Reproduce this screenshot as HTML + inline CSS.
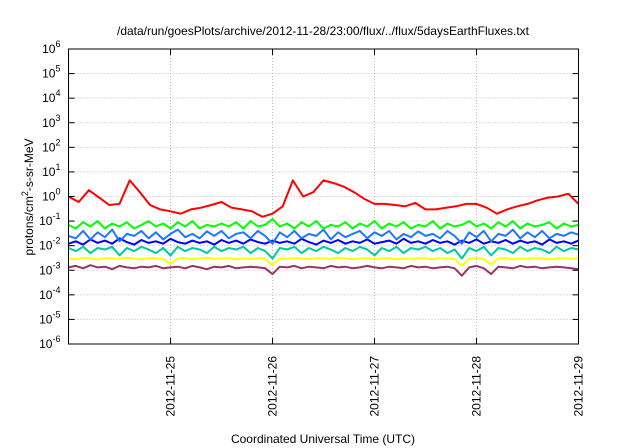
<!DOCTYPE html>
<html><head><meta charset="utf-8"><style>
html,body{margin:0;padding:0;background:#fff;}
svg{display:block;font-family:"Liberation Sans",sans-serif;}
</style></head><body>
<svg id="chart" width="640" height="448" viewBox="0 0 640 448">
<text x="323" y="35" font-size="12" text-anchor="middle">/data/run/goesPlots/archive/2012-11-28/23:00/flux/../flux/5daysEarthFluxes.txt</text>
<text transform="translate(33,197) rotate(-90)" font-size="12" text-anchor="middle">protons/cm<tspan dy="-5" font-size="9">2</tspan><tspan dy="5">-s-sr-MeV</tspan></text>
<text x="323" y="443" font-size="12" text-anchor="middle">Coordinated Universal Time (UTC)</text>
<g id="grid"></g><g id="series"></g><g id="axes"></g>
</svg>
<script>
const xTickLabels=["2012-11-25","2012-11-26","2012-11-27","2012-11-28","2012-11-29"];
const xTickDays=[1,2,3,4,5];
const yTickExps=[-6,-5,-4,-3,-2,-1,0,1,2,3,4,5,6];
const seriesColors=["#993366","#ffff00","#00c8a0","#0000ff","#1e78ff","#00ff00","#ff0000"];
const purple=[0.0013,0.0015,0.0012,0.0016,0.0013,0.0014,0.0011,0.0015,0.0013,0.0012,0.0014,0.0013,0.0015,0.0012,0.0013,0.0014,0.0012,0.0015,0.0013,0.0011,0.0014,0.0013,0.0015,0.0012,0.0013,0.0014,0.0013,0.0012,0.0007,0.0014,0.0013,0.0015,0.0012,0.0014,0.0013,0.0012,0.0015,0.0013,0.0014,0.0012,0.0013,0.0015,0.0013,0.0012,0.0014,0.0013,0.0012,0.0015,0.0013,0.0014,0.0012,0.0013,0.0014,0.0012,0.0006,0.0013,0.0015,0.0012,0.0007,0.0014,0.0013,0.0012,0.0015,0.0013,0.0014,0.0012,0.0013,0.0014,0.0013,0.0012,0.0011];
const yellow=[0.003,0.0028,0.0032,0.003,0.0027,0.0031,0.003,0.0029,0.0032,0.003,0.0028,0.0031,0.003,0.0029,0.0018,0.003,0.0031,0.0028,0.003,0.0032,0.0029,0.003,0.0031,0.0028,0.003,0.0029,0.0031,0.003,0.0016,0.003,0.0029,0.0031,0.003,0.0028,0.0031,0.003,0.0029,0.0032,0.003,0.0028,0.003,0.0031,0.0029,0.003,0.0031,0.0028,0.003,0.0029,0.0031,0.003,0.0028,0.0031,0.003,0.0029,0.0015,0.003,0.0031,0.0029,0.0017,0.003,0.0031,0.0028,0.003,0.0029,0.0031,0.003,0.0028,0.003,0.0031,0.0029,0.003];
const teal=[0.008,0.006,0.009,0.005,0.008,0.007,0.009,0.004,0.008,0.006,0.009,0.007,0.005,0.008,0.004,0.009,0.006,0.008,0.007,0.005,0.009,0.006,0.008,0.007,0.009,0.005,0.008,0.006,0.003,0.008,0.007,0.009,0.005,0.008,0.006,0.009,0.007,0.005,0.008,0.006,0.009,0.007,0.004,0.008,0.006,0.009,0.005,0.008,0.007,0.009,0.006,0.008,0.005,0.007,0.003,0.008,0.006,0.009,0.004,0.008,0.007,0.005,0.009,0.006,0.008,0.007,0.005,0.009,0.006,0.008,0.007];
const blue=[0.012,0.015,0.011,0.018,0.013,0.016,0.012,0.02,0.014,0.011,0.017,0.013,0.015,0.012,0.019,0.014,0.012,0.016,0.013,0.015,0.011,0.017,0.013,0.016,0.012,0.018,0.014,0.012,0.016,0.013,0.015,0.012,0.019,0.014,0.011,0.016,0.013,0.017,0.012,0.015,0.013,0.018,0.012,0.014,0.016,0.012,0.019,0.013,0.015,0.012,0.017,0.013,0.015,0.011,0.016,0.013,0.018,0.012,0.015,0.013,0.017,0.012,0.016,0.013,0.015,0.011,0.018,0.013,0.015,0.012,0.016];
const lightBlue=[0.025,0.02,0.04,0.018,0.035,0.022,0.045,0.015,0.03,0.025,0.04,0.02,0.035,0.018,0.03,0.045,0.022,0.03,0.02,0.038,0.025,0.04,0.02,0.03,0.035,0.02,0.04,0.025,0.012,0.035,0.022,0.04,0.02,0.03,0.025,0.045,0.018,0.035,0.022,0.03,0.04,0.02,0.035,0.025,0.04,0.018,0.03,0.022,0.038,0.025,0.03,0.02,0.04,0.025,0.012,0.035,0.022,0.04,0.015,0.03,0.025,0.045,0.02,0.035,0.022,0.04,0.02,0.03,0.025,0.035,0.028];
const green=[0.07,0.05,0.09,0.06,0.1,0.05,0.08,0.06,0.09,0.05,0.07,0.1,0.06,0.08,0.05,0.09,0.06,0.1,0.05,0.07,0.06,0.08,0.06,0.09,0.05,0.1,0.06,0.07,0.12,0.06,0.08,0.05,0.09,0.06,0.1,0.05,0.07,0.06,0.09,0.05,0.08,0.06,0.1,0.05,0.08,0.06,0.09,0.05,0.07,0.06,0.1,0.05,0.08,0.06,0.07,0.1,0.06,0.08,0.05,0.09,0.06,0.1,0.05,0.08,0.06,0.07,0.09,0.05,0.08,0.06,0.07];
const red=[1.0,0.6,1.8,0.9,0.45,0.5,4.5,1.5,0.45,0.3,0.25,0.2,0.3,0.35,0.45,0.6,0.35,0.3,0.25,0.15,0.2,0.4,4.5,1.0,1.5,4.5,3.5,2.5,1.5,0.8,0.5,0.5,0.45,0.4,0.55,0.3,0.3,0.35,0.4,0.5,0.5,0.35,0.2,0.3,0.4,0.5,0.7,0.9,1.0,1.3,0.5];
const allSeries=[purple,yellow,teal,blue,lightBlue,green,red];
const seriesNames=["series-purple","series-yellow","series-teal","series-blue","series-light-blue","series-green","series-red"];
const L=68.5,R=578.5,T=49,B=344,DAYS=5,YMIN=-6,YMAX=6;
const xs=d=>L+(R-L)*d/DAYS;
const ys=v=>B-(B-T)*(Math.log10(v)-YMIN)/(YMAX-YMIN);
const ns="http://www.w3.org/2000/svg";
function mk(tag,attrs,parent){const e=document.createElementNS(ns,tag);for(const k in attrs)e.setAttribute(k,attrs[k]);parent.appendChild(e);return e;}
const grid=document.getElementById('grid'),axes=document.getElementById('axes'),sg=document.getElementById('series');
yTickExps.forEach(e=>{
  const y=ys(Math.pow(10,e));
  if(e>YMIN&&e<YMAX){const g=mk('line',{x1:L,x2:R,y1:y,y2:y,stroke:'#bbb','stroke-dasharray':'1,2'},grid);
  
  }
  const t1=mk('line',{x1:L,x2:L+6,y1:y,y2:y,stroke:'#000'},axes);
  
  
  mk('line',{x1:R,x2:R-6,y1:y,y2:y,stroke:'#000'},axes);
  const tx=mk('text',{x:L-8,y:y+4,'font-size':12,'text-anchor':'end'},axes);
  
  
  tx.innerHTML='10<tspan dy="-6" font-size="9">'+e+'</tspan>';
});
xTickDays.forEach((d,i)=>{
  const x=xs(d);
  if(d<DAYS){const g=mk('line',{x1:x,x2:x,y1:T,y2:B,stroke:'#bbb','stroke-dasharray':'1,2'},grid);
  
  }
  mk('line',{x1:x,x2:x,y1:B,y2:B-6,stroke:'#000'},axes);
  mk('line',{x1:x,x2:x,y1:T,y2:T+6,stroke:'#000'},axes);
  const tx=mk('text',{transform:'translate('+(x+4)+','+(B+12)+') rotate(-90)','font-size':12,'text-anchor':'end'},axes);
  
  
  tx.textContent=xTickLabels[i];
});
const frame=mk('rect',{x:L,y:T,width:R-L,height:B-T,fill:'none',stroke:'#000','stroke-width':1},axes);


allSeries.forEach((arr,si)=>{
  const n=arr.length;
  const pts=arr.map((v,i)=>xs(i*DAYS/(n-1)).toFixed(1)+','+ys(v).toFixed(1)).join(' ');
  const p=mk('polyline',{points:pts,fill:'none',stroke:seriesColors[si],'stroke-width':2,'stroke-linejoin':'round'},sg);
  
  
});
</script>
</body></html>
